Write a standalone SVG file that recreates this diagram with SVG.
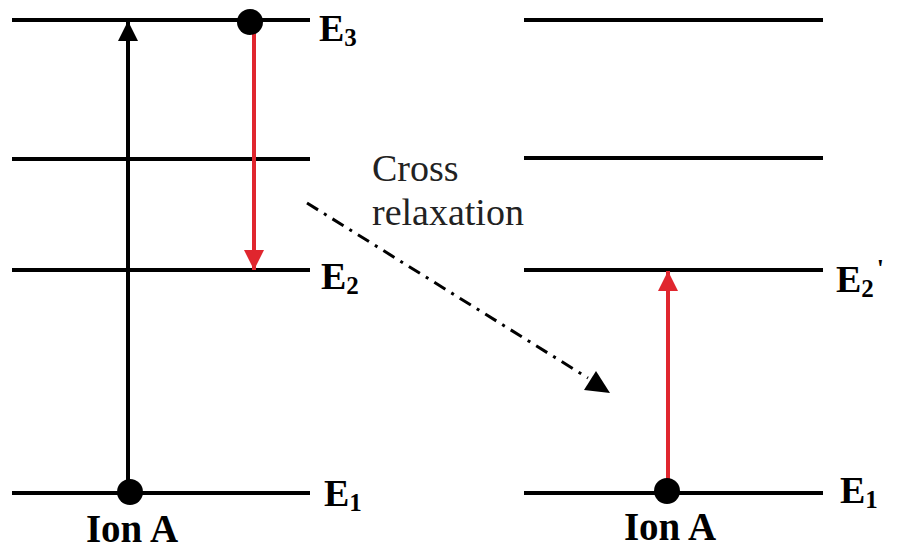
<svg xmlns="http://www.w3.org/2000/svg" width="914" height="551" viewBox="0 0 914 551">
<style>
.lvl{stroke:#000;stroke-width:4;fill:none}
.lab{font-family:"Liberation Serif",serif;font-weight:bold;font-size:38px;fill:#000}
.sub{font-size:25px}
.ion{font-family:"Liberation Serif",serif;font-weight:bold;font-size:39px;fill:#000}
.txt{font-family:"Liberation Serif",serif;font-size:38px;fill:#222}
</style>
<defs>
<marker id="ah" viewBox="0 0 10 10" refX="10" refY="5" markerWidth="5" markerHeight="5" markerUnits="strokeWidth" orient="auto"><path d="M0,0 L10,5 L0,10 z" fill="#000"/></marker>
<marker id="ahr" viewBox="0 0 10 10" refX="10" refY="5" markerWidth="5" markerHeight="5" markerUnits="strokeWidth" orient="auto"><path d="M0,0 L10,5 L0,10 z" fill="#e0262e"/></marker>
</defs>
<rect width="914" height="551" fill="#fff"/>
<g id="ionA-left">
<line class="lvl" x1="12" y1="20" x2="310" y2="20"/>
<line class="lvl" x1="12" y1="159" x2="310" y2="159"/>
<line class="lvl" x1="12" y1="270" x2="310" y2="270"/>
<line class="lvl" x1="12" y1="493" x2="310" y2="493"/>
<text class="lab" x="319" y="41">E<tspan class="sub" dy="5">3</tspan></text>
<text class="lab" x="321" y="289">E<tspan class="sub" dy="5">2</tspan></text>
<text class="lab" x="324" y="506">E<tspan class="sub" dy="5">1</tspan></text>
<text class="ion" x="132" y="542" text-anchor="middle">Ion A</text>
</g>
<g id="ionA-right">
<line class="lvl" x1="524" y1="20" x2="823" y2="20"/>
<line class="lvl" x1="524" y1="158" x2="823" y2="158"/>
<line class="lvl" x1="524" y1="270" x2="823" y2="270"/>
<line class="lvl" x1="524" y1="493" x2="823" y2="493"/>
<text class="lab" x="836" y="292">E<tspan class="sub" dy="5">2</tspan><tspan dx="3" dy="-20" font-size="26">'</tspan></text>
<text class="lab" x="840" y="503">E<tspan class="sub" dy="5">1</tspan></text>
<text class="ion" x="670" y="540" text-anchor="middle">Ion A</text>
</g>
<g id="label-cross">
<text class="txt" x="372" y="181">Cross</text>
<text class="txt" x="372" y="225">relaxation</text>
</g>
<g id="connectors">
<line x1="128" y1="490" x2="128" y2="21" stroke="#000" stroke-width="4" marker-end="url(#ah)"/>
<line x1="254" y1="24" x2="254" y2="270" stroke="#e0262e" stroke-width="4" marker-end="url(#ahr)"/>
<line x1="668" y1="490" x2="668" y2="271" stroke="#e0262e" stroke-width="4" marker-end="url(#ahr)"/>
<line x1="307" y1="203" x2="588" y2="378" stroke="#000" stroke-width="3" stroke-dasharray="13,7,3,7"/>
<path d="M610,393 L584,390 L596,371 z" fill="#000"/>
</g>
<g id="dots">
<circle cx="250" cy="22" r="13" fill="#000"/>
<circle cx="130" cy="492" r="13" fill="#000"/>
<circle cx="667" cy="491" r="13" fill="#000"/>
</g>
</svg>
